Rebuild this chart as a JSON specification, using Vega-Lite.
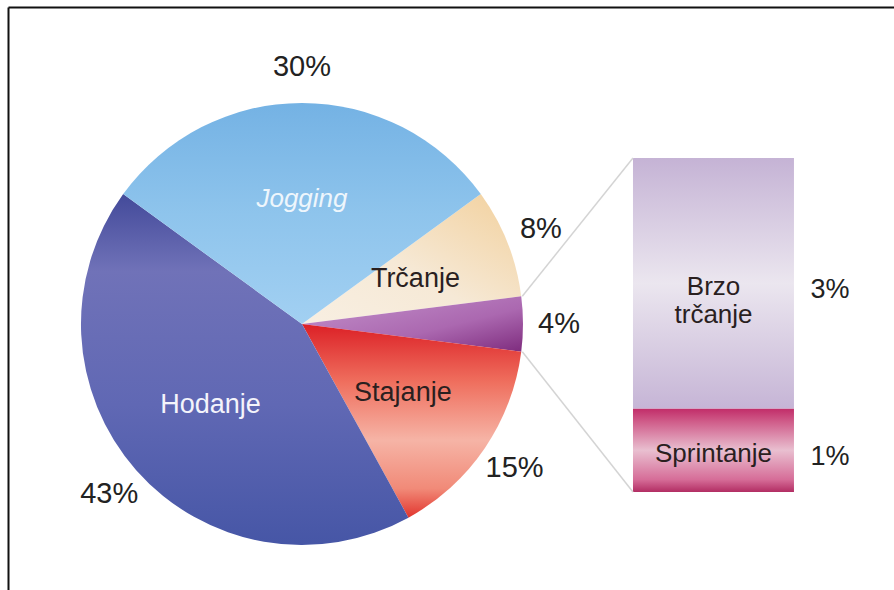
{
  "$schema": "https://vega.github.io/schema/vega-lite/v6.json",
  "width": 894,
  "height": 590,
  "autosize": {"type": "fit", "contains": "padding"},
  "padding": {"left": 8, "top": 7, "right": 0, "bottom": 0},
  "background": "white",
  "config": {
    "view": {"stroke": null},
    "font": "Liberation Sans",
    "axis": {"labels": false, "ticks": false, "grid": false, "domainColor": "#111", "domainWidth": 2, "title": null}
  },
  "datasets": {
    "pie": [
      {"k": "Trčanje", "v": 0.08, "o": 1},
      {"k": "Brzo trčanje i sprintanje", "v": 0.04, "o": 2},
      {"k": "Stajanje", "v": 0.15, "o": 3},
      {"k": "Hodanje", "v": 0.43, "o": 4},
      {"k": "Jogging", "v": 0.30, "o": 5}
    ],
    "bar": [
      {"k": "Sprintanje", "v": 0.01, "o": 1},
      {"k": "Brzo\ntrčanje", "v": 0.03, "o": 2}
    ]
  },
  "layer": [
    {
      "data": {"name": "bar"},
      "transform": [{"stack": "v", "groupby": [], "sort": [{"field": "o", "order": "ascending"}], "as": ["v0", "v1"]}],
      "mark": {"type": "rect"},
      "encoding": {
        "x": {"datum": 70.54, "type": "quantitative", "scale": {"domain": [0, 100], "nice": false, "zero": false},
              "axis": {"orient": "top", "title": null}},
        "x2": {"datum": 88.71},
        "y": {"field": "v0", "type": "quantitative", "scale": {"domain": [-0.011737, 0.058084], "nice": false, "zero": false},
              "axis": {"orient": "left", "title": null}},
        "y2": {"field": "v1"},
        "fill": {
          "condition": [
            {"test": "datum.k === 'Sprintanje'", "value": {"gradient": "linear", "x1": 0, "y1": 0, "x2": 0, "y2": 1, "stops": [
              {"offset": 0, "color": "#c12c68"}, {"offset": 0.15, "color": "#cf5a88"}, {"offset": 0.5, "color": "#e9bfd0"}, {"offset": 0.85, "color": "#d66d98"}, {"offset": 1, "color": "#b22d63"}]}}
          ],
          "value": {"gradient": "linear", "x1": 0, "y1": 0, "x2": 0, "y2": 1, "stops": [
            {"offset": 0, "color": "#c5b3d5"}, {"offset": 0.5, "color": "#ebe6ef"}, {"offset": 1, "color": "#c6b5d6"}]}
        }
      }
    },
    {
      "data": {"values": [{}]},
      "mark": {"type": "rule", "color": "#d4d4d4", "strokeWidth": 1.5},
      "encoding": {
        "x": {"datum": 58.05, "type": "quantitative", "axis": {"orient": "top", "title": null}},
        "y": {"datum": 0.02345, "type": "quantitative", "axis": {"orient": "left", "title": null}},
        "x2": {"datum": 70.54},
        "y2": {"datum": 0.04}
      }
    },
    {
      "data": {"values": [{}]},
      "mark": {"type": "rule", "color": "#d4d4d4", "strokeWidth": 1.5},
      "encoding": {
        "x": {"datum": 58.05, "type": "quantitative", "axis": {"orient": "top", "title": null}},
        "y": {"datum": 0.01679, "type": "quantitative", "axis": {"orient": "left", "title": null}},
        "x2": {"datum": 70.54},
        "y2": {"datum": 0}
      }
    },
    {
      "data": {"name": "pie"},
      "mark": {"type": "arc", "radius": 221, "x": {"expr": "scale('x', 33.18)"}, "y": {"expr": "scale('y', 0.02012)"}},
      "encoding": {
        "theta": {"field": "v", "type": "quantitative", "stack": true, "scale": {"domain": [0, 1], "range": [0.9425, 7.2257]}},
        "detail": {"field": "k"},
        "order": {"field": "o", "type": "quantitative"},
        "fill": {
          "condition": [
            {"test": "datum.k === 'Jogging'", "value": {"gradient": "linear", "x1": 0, "y1": 0, "x2": 0, "y2": 1, "stops": [
              {"offset": 0, "color": "#74b2e4"}, {"offset": 0.5, "color": "#8ec4ec"}, {"offset": 1, "color": "#a2d0f2"}]}},
            {"test": "datum.k === 'Trčanje'", "value": {"gradient": "linear", "x1": 1, "y1": 0, "x2": 0, "y2": 1, "stops": [
              {"offset": 0, "color": "#f2d09c"}, {"offset": 0.55, "color": "#f6e9d6"}, {"offset": 1, "color": "#f8efe2"}]}},
            {"test": "datum.k === 'Stajanje'", "value": {"gradient": "linear", "x1": 0, "y1": 0, "x2": 0, "y2": 1, "stops": [
              {"offset": 0, "color": "#dc2026"}, {"offset": 0.3, "color": "#ef6f5e"}, {"offset": 0.6, "color": "#f6b4a6"}, {"offset": 0.85, "color": "#f18a78"}, {"offset": 1, "color": "#e2352e"}]}},
            {"test": "datum.k === 'Hodanje'", "value": {"gradient": "linear", "x1": 0, "y1": 0, "x2": 0, "y2": 1, "stops": [
              {"offset": 0, "color": "#434a9a"}, {"offset": 0.22, "color": "#7072b8"}, {"offset": 0.6, "color": "#6068b4"}, {"offset": 1, "color": "#4656a6"}]}}
          ],
          "value": {"gradient": "linear", "x1": 0, "y1": 0, "x2": 1, "y2": 1, "stops": [
            {"offset": 0, "color": "#c493cc"}, {"offset": 0.6, "color": "#ab68b0"}, {"offset": 1, "color": "#7e2c7e"}]}
        }
      }
    },
    {
      "data": {"name": "pie"},
      "mark": {"type": "text", "radius": 257, "fontSize": 29, "fill": "#222", "x": {"expr": "scale('x', 33.18)"}, "y": {"expr": "scale('y', 0.02012)"}},
      "encoding": {
        "theta": {"field": "v", "type": "quantitative", "stack": true},
        "detail": {"field": "k"},
        "order": {"field": "o", "type": "quantitative"},
        "text": {"field": "v", "type": "quantitative", "format": ".0%"}
      }
    },
    {
      "data": {"name": "pie"},
      "mark": {"type": "text", "radius": 122, "fontSize": 27, "x": {"expr": "scale('x', 33.18)"}, "y": {"expr": "scale('y', 0.02012)"}},
      "encoding": {
        "theta": {"field": "v", "type": "quantitative", "stack": true},
        "detail": {"field": "k"},
        "order": {"field": "o", "type": "quantitative"},
        "text": {"condition": {"test": "datum.k === 'Trčanje' || datum.k === 'Stajanje' || datum.k === 'Hodanje'", "field": "k", "type": "nominal"}, "value": ""},
        "fill": {"condition": {"test": "datum.k === 'Hodanje'", "value": "#f4f4fb"}, "value": "#2a1f1f"}
      }
    },
    {
      "data": {"name": "pie"},
      "mark": {"type": "text", "radius": 125, "fontSize": 26, "fontStyle": "italic", "fill": "#eef6fc", "x": {"expr": "scale('x', 33.18)"}, "y": {"expr": "scale('y', 0.02012)"}},
      "encoding": {
        "theta": {"field": "v", "type": "quantitative", "stack": true},
        "detail": {"field": "k"},
        "order": {"field": "o", "type": "quantitative"},
        "text": {"condition": {"test": "datum.k === 'Jogging'", "field": "k", "type": "nominal"}, "value": ""}
      }
    },
    {
      "data": {"name": "bar"},
      "transform": [
        {"stack": "v", "groupby": [], "sort": [{"field": "o", "order": "ascending"}], "as": ["v0", "v1"]},
        {"fold": ["v0", "v1"], "as": ["edge", "pos"]}
      ],
      "mark": {"type": "text", "fontSize": 26, "fill": "#2a1f1f", "lineBreak": "\n", "dy": 4, "x": {"expr": "scale('x', 79.63)"}},
      "encoding": {
        "y": {"field": "pos", "type": "quantitative", "aggregate": "mean", "axis": {"orient": "left", "title": null}},
        "text": {"field": "k", "type": "nominal"}
      }
    },
    {
      "data": {"name": "bar"},
      "transform": [
        {"stack": "v", "groupby": [], "sort": [{"field": "o", "order": "ascending"}], "as": ["v0", "v1"]},
        {"fold": ["v0", "v1"], "as": ["edge", "pos"]}
      ],
      "mark": {"type": "text", "fontSize": 27, "fill": "#222", "dy": 7, "x": {"expr": "scale('x', 92.78)"}},
      "encoding": {
        "y": {"field": "pos", "type": "quantitative", "aggregate": "mean", "axis": {"orient": "left", "title": null}},
        "text": {"field": "v", "type": "quantitative", "format": ".0%"}
      }
    }
  ]
}
